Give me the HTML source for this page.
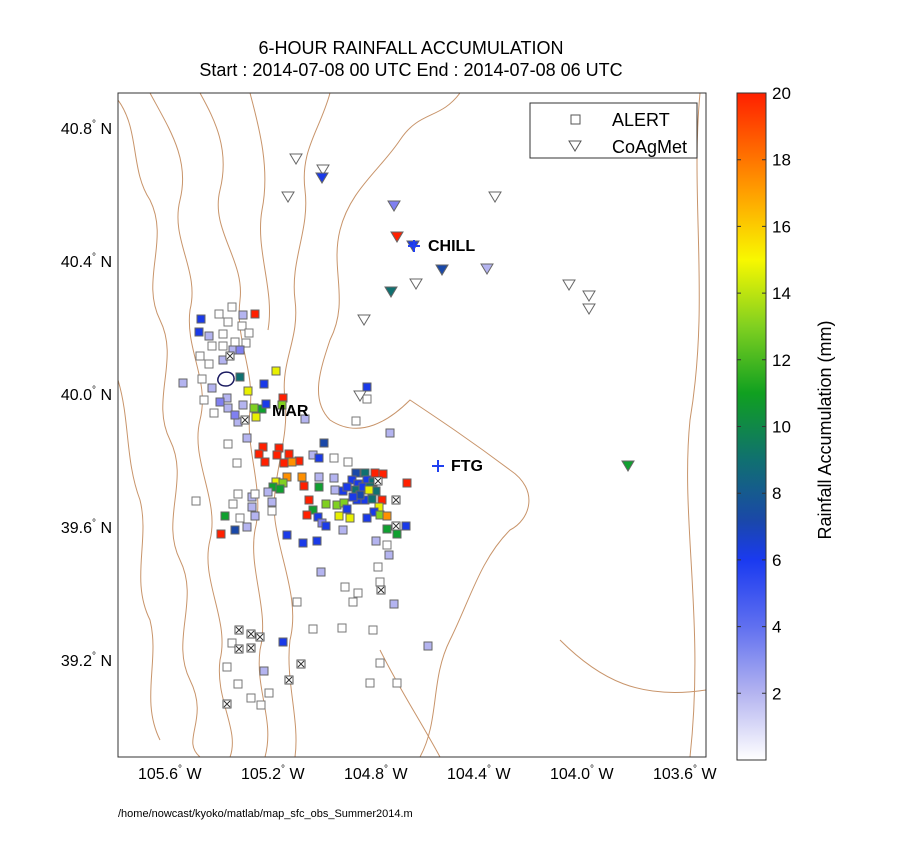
<!DOCTYPE html>
<html><head><meta charset="utf-8"><style>
body{margin:0;background:#fff;width:900px;height:855px;overflow:hidden}
svg{font-family:"Liberation Sans",sans-serif}
</style></head><body>
<svg id="s" width="900" height="855" xmlns="http://www.w3.org/2000/svg">
<defs>
<linearGradient id="cb" x1="0" y1="1" x2="0" y2="0">
<stop offset="0" stop-color="#ffffff"/>
<stop offset="0.1" stop-color="#b4b4f0"/>
<stop offset="0.2" stop-color="#6070f0"/>
<stop offset="0.3" stop-color="#1a3af0"/>
<stop offset="0.36" stop-color="#1a48a8"/>
<stop offset="0.45" stop-color="#107070"/>
<stop offset="0.55" stop-color="#10a020"/>
<stop offset="0.65" stop-color="#80d020"/>
<stop offset="0.75" stop-color="#f8f800"/>
<stop offset="0.85" stop-color="#ffa000"/>
<stop offset="1" stop-color="#ff2000"/>
</linearGradient>
<clipPath id="pc"><rect x="118" y="93" width="588" height="664"/></clipPath>
</defs>
<text x="411" y="54" font-size="18" text-anchor="middle">6-HOUR RAINFALL ACCUMULATION</text>
<text x="411" y="76" font-size="18" text-anchor="middle">Start : 2014-07-08 00 UTC End : 2014-07-08 06 UTC</text>
<g clip-path="url(#pc)" fill="none" stroke="#c8946a" stroke-width="1">
<path d="M330 93 C320 130 300 150 305 190 C310 230 290 260 295 300 C300 340 280 360 285 400 C290 440 270 480 275 520 C280 560 300 600 290 640 C285 680 300 720 295 757"/>
<path d="M460 93 C440 120 420 110 400 140 C380 170 350 190 340 230 C330 270 350 300 330 340 C320 370 310 400 330 420 C360 440 390 420 410 400 C440 420 470 440 510 470 C540 490 530 520 510 530 C480 560 470 600 450 640 C430 680 440 720 420 757"/>
<path d="M118 100 C140 130 130 170 150 200 C170 240 140 280 160 320 C180 360 150 400 170 440 C190 480 160 520 180 560 C200 600 170 640 190 680 C210 720 180 740 200 757"/>
<path d="M150 93 C170 130 190 160 180 200 C170 240 200 270 190 310 C185 350 210 380 200 420 C190 460 220 500 210 540 C200 580 230 620 220 660 C215 700 240 730 230 757"/>
<path d="M200 93 C215 120 230 150 220 190 C210 230 245 260 240 300 C235 340 255 370 250 410 C245 450 265 490 255 530 C248 570 270 610 260 650 C255 690 275 720 265 757"/>
<path d="M250 93 C260 130 270 170 262 210 C255 250 275 290 268 330"/>
<path d="M118 380 C130 420 125 460 140 500 C150 540 130 580 150 620 C160 660 140 700 160 740"/>
<path d="M700 93 C690 200 710 300 690 420 C680 520 705 620 690 757"/>
<path d="M560 640 C600 680 640 700 706 690"/>
<path d="M380 650 C400 690 420 720 440 757"/>
</g>
<rect x="118" y="93" width="588" height="664" fill="none" stroke="#333" stroke-width="1"/>
<g id="m"></g>
<g font-size="16" font-weight="bold">
<text x="428" y="251">CHILL</text><text x="451" y="471">FTG</text><text x="272" y="416">MAR</text>
</g>
<g stroke="#2040f0" stroke-width="2">
<path d="M408 246h12M414 240v12"/><path d="M432 466h12M438 460v12"/>
</g>
<path d="M219 376 C222 371 230 371 233 375 C236 380 232 386 226 386 C219 386 216 381 219 376Z" fill="none" stroke="#1a1a60" stroke-width="1.5"/>
<g font-size="16">
<text x="112" y="134" text-anchor="end">40.8<tspan font-size="10" dy="-7">°</tspan><tspan dy="7"> N</tspan></text>
<text x="112" y="267" text-anchor="end">40.4<tspan font-size="10" dy="-7">°</tspan><tspan dy="7"> N</tspan></text>
<text x="112" y="400" text-anchor="end">40.0<tspan font-size="10" dy="-7">°</tspan><tspan dy="7"> N</tspan></text>
<text x="112" y="533" text-anchor="end">39.6<tspan font-size="10" dy="-7">°</tspan><tspan dy="7"> N</tspan></text>
<text x="112" y="666" text-anchor="end">39.2<tspan font-size="10" dy="-7">°</tspan><tspan dy="7"> N</tspan></text>
<text x="138" y="779">105.6<tspan font-size="10" dy="-7">°</tspan><tspan dy="7"> W</tspan></text>
<text x="241" y="779">105.2<tspan font-size="10" dy="-7">°</tspan><tspan dy="7"> W</tspan></text>
<text x="344" y="779">104.8<tspan font-size="10" dy="-7">°</tspan><tspan dy="7"> W</tspan></text>
<text x="447" y="779">104.4<tspan font-size="10" dy="-7">°</tspan><tspan dy="7"> W</tspan></text>
<text x="550" y="779">104.0<tspan font-size="10" dy="-7">°</tspan><tspan dy="7"> W</tspan></text>
<text x="653" y="779">103.6<tspan font-size="10" dy="-7">°</tspan><tspan dy="7"> W</tspan></text>
</g>
<rect x="530" y="103" width="167" height="55" fill="#fff" stroke="#333"/>
<rect x="571" y="115" width="9" height="9" fill="#fff" stroke="#555"/>
<path d="M569 141h12l-6 10z" fill="#fff" stroke="#555"/>
<text x="612" y="126" font-size="18">ALERT</text>
<text x="612" y="153" font-size="18">CoAgMet</text>
<rect x="737" y="93" width="29" height="667" fill="url(#cb)" stroke="#333"/>
<g font-size="17" id="cbt"></g>
<text transform="translate(831,430) rotate(-90)" font-size="18" text-anchor="middle">Rainfall Accumulation (mm)</text>
<text x="118" y="817" font-size="11">/home/nowcast/kyoko/matlab/map_sfc_obs_Summer2014.m</text>
</svg>
<script>
var C={h:"#fff",l:"#b4b4f0",L:"#8080f0",b:"#1a3ae8",d:"#1a48a8",t:"#107070",g:"#10a030",G:"#80d020",y:"#e8f000",o:"#ff9000",r:"#ff2000",x:"X"};
var sq="201,319,b 255,314,r 199,332,b 209,336,l 243,315,l 232,307,h 219,314,h 228,322,h 242,326,h 249,333,h 223,334,h 235,342,h 246,343,h 212,346,h 223,346,h 200,356,h 209,364,h 202,379,h 204,400,h 214,413,h 228,444,h 237,463,h 233,350,l 223,360,l 183,383,l 212,388,l 227,398,l 243,405,l 228,408,l 238,422,l 247,438,l 305,419,l 240,377,t 248,391,y 254,408,G 262,409,g 256,417,y 264,384,b 266,404,b 276,371,y 283,398,r 282,405,G 367,387,b 390,433,l 324,443,d 356,421,h 367,399,h 230,356,x 240,350,L 220,402,L 235,415,L 245,420,x "+
"263,447,r 279,448,r 259,454,r 277,455,r 289,454,r 265,462,r 284,463,r 299,461,r 292,462,o 313,455,l 319,458,b 334,458,h 348,462,h "+
"287,477,o 276,482,y 283,483,G 273,487,g 280,489,g 302,477,o 304,486,r 319,477,l 319,487,g 334,478,l 268,492,l 272,502,l 252,497,l 238,494,h 255,494,h 233,504,h 252,507,l 272,511,h 255,516,l 240,518,h 225,516,g 235,530,d 247,527,l 221,534,r 196,501,h "+
"309,500,r 326,504,G 313,510,g 307,515,r 318,517,b 337,505,G 344,503,G 322,523,L 326,526,b 339,516,y 350,518,y 347,509,b 343,530,l 335,490,l 343,491,b 287,535,b 303,543,b 317,541,b "+
"356,473,d 365,473,t 375,473,r 383,474,r 352,480,b 358,484,b 367,480,b 373,482,t 347,487,b 356,490,t 363,487,b 370,487,t 376,491,t 378,481,x 357,500,b 365,500,b 372,499,t 382,500,r 369,490,y 379,507,y 374,512,b 380,515,G 387,516,o 367,518,b 387,529,g 396,526,x 397,534,g 406,526,b 376,541,l 407,483,r 396,500,x 360,495,d 353,497,b "+
"387,545,h 389,555,l 378,567,h 321,572,l 297,602,h 345,587,h 358,593,h 353,602,h 380,582,h 381,590,x 394,604,l 373,630,h 342,628,h 313,629,h 239,630,x 251,634,x 260,637,x 232,643,h 239,649,x 251,648,x 283,642,b 301,664,x 227,667,h 264,671,l 380,663,h 428,646,l 289,680,x 370,683,h 397,683,h 238,684,h 269,693,h 251,698,h 227,704,x 261,705,h";
var tr="296,159,h 323,170,h 288,197,h 495,197,h 416,284,h 364,320,h 569,285,h 589,296,h 589,309,h 360,396,h 322,178,b 394,206,L 397,237,r 413,246,b 442,270,d 391,292,t 487,269,l 628,466,g";
var o="";
sq.trim().split(/\s+/).forEach(function(p){var a=p.split(",");var x=+a[0],y=+a[1],c=C[a[2]];
if(c=="X"){o+='<rect x="'+(x-4)+'" y="'+(y-4)+'" width="8" height="8" fill="#fff" stroke="#555"/><path d="M'+(x-3)+' '+(y-3)+'l6 6M'+(x+3)+' '+(y-3)+'l-6 6" stroke="#333"/>';}
else o+='<rect x="'+(x-4)+'" y="'+(y-4)+'" width="8" height="8" fill="'+c+'" stroke="'+(a[2]=="h"?"#777":"#666")+'"/>';});
tr.split(/\s+/).forEach(function(p){var a=p.split(",");var x=+a[0],y=+a[1];
o+='<path d="M'+(x-6)+' '+(y-5)+'h12l-6 10z" fill="'+C[a[2]]+'" stroke="#666"/>';});
document.getElementById("m").innerHTML=o;
var t="";for(var v=2;v<=20;v+=2){var y=760-v*33.35;t+='<text x="772" y="'+(y+6)+'">'+v+'</text><path d="M737 '+y+'h4M766 '+y+'h-4" stroke="#333"/>';}
document.getElementById("cbt").innerHTML=t;
</script>
</body></html>
